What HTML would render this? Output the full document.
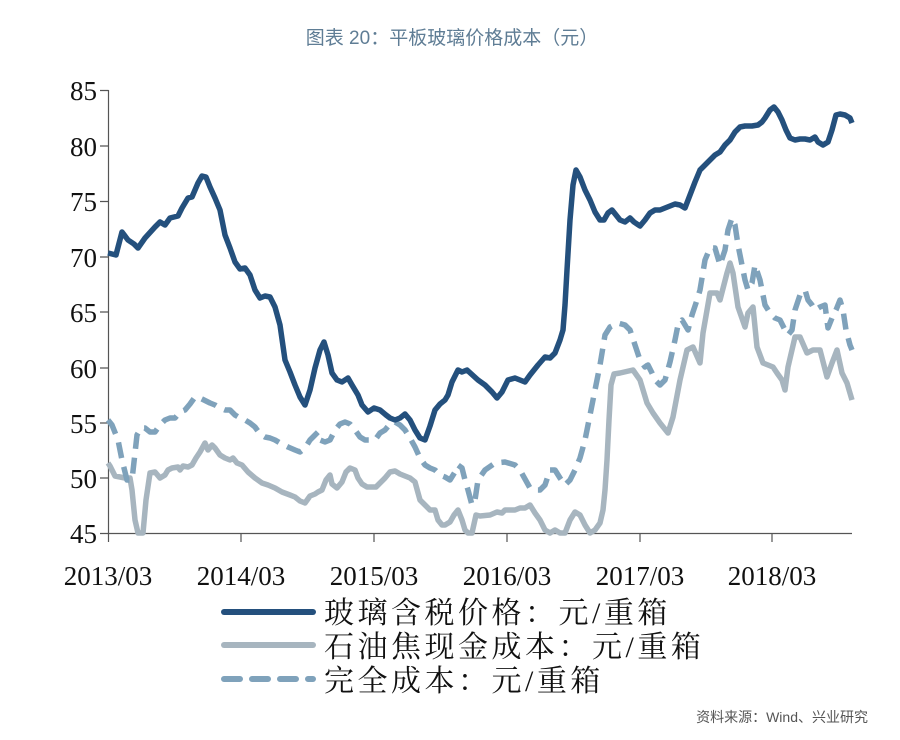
<!DOCTYPE html>
<html><head><meta charset="utf-8"><style>
body{margin:0;background:#fff;width:900px;height:740px;overflow:hidden}
svg{display:block}
</style></head><body>
<svg width="900" height="740" viewBox="0 0 900 740">
<text x="452" y="44" text-anchor="middle" font-family="Liberation Sans,Noto Sans CJK SC,sans-serif" font-size="19" fill="#5f7d95">图表 20：平板玻璃价格成本（元）</text>
<g font-family="Liberation Serif,Noto Serif CJK SC,serif" font-size="27" fill="#111" text-anchor="end">
<text x="97" y="100">85</text><text x="97" y="156">80</text><text x="97" y="211">75</text><text x="97" y="267">70</text><text x="97" y="322">65</text><text x="97" y="378">60</text><text x="97" y="433">55</text><text x="97" y="488">50</text><text x="97" y="543">45</text>
</g>
<g font-family="Liberation Serif,Noto Serif CJK SC,serif" font-size="27" fill="#111" text-anchor="middle">
<text x="108" y="585">2013/03</text><text x="241" y="585">2014/03</text><text x="374" y="585">2015/03</text><text x="507" y="585">2016/03</text><text x="640" y="585">2017/03</text><text x="772" y="585">2018/03</text>
</g>
<g stroke="#555" stroke-width="1.2" fill="none">
<path d="M108.5 90V533.5H852"/>
<path d="M100 90.5H108.5M100 146H108.5M100 201.5H108.5M100 257H108.5M100 312H108.5M100 368H108.5M100 423H108.5M100 478H108.5M100 533.5H108.5"/>
<path d="M108.5 533V542M241 533V542M374 533V542M507 533V542M640 533V542M772 533V542"/>
</g>
<g fill="none" stroke-linejoin="round" stroke-width="5.5">
<polyline stroke="#a7b5bf" points="108,463 110,466 115,476 125,478 130,478 132,490 135,520 138,533 143,533 146,500 150,473 155,472 160,478 165,475 168,470 172,468 178,467 180,470 183,466 188,467 192,465 196,458 200,452 205,443 208,450 212,445 215,448 220,455 225,458 230,460 233,458 237,463 242,465 248,472 255,478 262,483 268,485 275,488 282,492 290,495 295,497 300,501 305,503 310,496 315,494 318,492 322,490 326,480 330,475 332,484 337,488 342,482 346,472 350,468 355,470 358,478 362,484 367,487 372,487 376,487 380,483 385,478 390,472 395,471 400,474 405,476 410,478 415,482 420,500 425,505 430,510 435,510 438,520 442,525 445,525 450,522 454,515 458,510 462,520 465,530 468,533 472,533 476,515 480,516 490,515 497,512 502,513 505,510 515,510 520,508 525,508 530,505 535,513 540,520 545,530 550,533 555,530 560,533 565,533 570,520 575,512 580,515 585,525 590,533 595,530 600,523 603,510 605,490 607,460 609,420 611,385 614,374 620,373 633,370 640,380 647,403 653,413 660,423 668,433 673,417 680,380 687,350 693,347 700,363 703,333 710,293 717,293 720,300 727,273 730,263 733,273 738,307 745,327 748,313 753,307 757,347 763,363 773,367 777,373 782,380 785,390 788,367 795,337 800,337 807,353 813,350 820,350 827,377 832,363 837,350 842,373 847,383 852,400"/>
<polyline stroke="#7fa2bb" stroke-dasharray="16,9" points="108,420 112,425 118,440 122,460 127,480 132,480 137,435 141,428 145,428 150,432 155,432 160,425 165,420 170,418 175,418 180,412 185,410 190,404 195,397 200,398 204,400 210,403 215,405 220,408 225,410 230,410 235,415 240,418 245,420 250,423 255,427 260,434 265,437 270,438 275,440 280,443 288,447 295,450 300,452 305,448 310,440 315,435 318,432 320,440 325,442 330,440 335,430 340,424 345,422 350,424 355,430 360,437 365,440 370,440 375,440 380,433 385,430 390,424 395,422 400,425 405,430 410,438 415,447 420,458 425,465 430,468 435,470 440,475 445,477 450,480 455,472 458,465 462,468 465,480 468,490 472,505 475,500 478,480 485,470 495,463 505,462 515,465 520,470 530,488 535,490 540,490 545,485 550,470 555,470 560,478 565,485 570,480 575,470 580,458 585,440 590,415 595,390 600,365 605,335 610,327 618,323 625,325 630,330 635,345 640,360 645,367 648,365 652,373 655,380 660,385 665,380 670,362 675,340 678,325 682,320 688,330 692,315 697,300 700,290 705,260 710,248 715,248 720,265 725,250 728,230 732,218 735,225 738,245 742,265 745,280 748,290 752,283 755,265 760,280 765,305 770,313 775,318 780,320 785,330 788,335 792,330 795,310 800,295 805,290 808,300 812,305 815,310 820,307 825,305 828,328 832,318 836,310 840,300 843,310 846,330 850,345 852,350"/>
<polyline stroke="#24507d" points="108,253 116,255 122,232 128,240 134,244 138,248 145,238 155,227 160,222 165,225 170,218 178,216 182,208 188,198 192,197 198,183 202,176 206,177 210,187 215,198 220,210 225,235 230,248 235,262 240,269 245,268 250,275 255,290 260,298 265,296 270,297 275,307 280,325 285,360 290,372 295,385 300,397 305,405 310,390 315,368 320,350 324,342 328,355 332,373 337,380 342,382 348,378 352,385 358,395 362,405 368,412 374,408 380,410 386,415 390,418 395,420 400,418 405,414 410,420 415,430 420,438 425,440 430,426 435,410 440,404 445,400 448,395 452,382 458,370 462,372 467,370 478,380 485,385 492,392 497,398 502,392 508,380 515,378 520,380 525,382 530,375 538,365 545,357 550,358 555,353 560,340 563,330 565,305 567,270 570,220 573,185 576,170 580,177 585,190 590,200 595,212 600,220 604,220 608,213 612,210 616,215 620,220 625,222 630,218 634,222 640,226 645,220 650,213 655,210 660,210 665,208 670,206 675,204 680,205 685,208 690,195 695,182 700,170 705,165 710,160 715,155 720,152 725,145 730,140 735,132 740,127 745,126 752,126 758,125 762,122 765,118 770,110 774,107 778,112 782,120 786,130 790,138 795,140 800,139 805,139 810,140 815,137 818,142 823,145 828,142 832,130 836,115 840,114 845,115 850,118 852,123"/>
</g>
<g stroke-width="6" fill="none" stroke-linecap="round">
<line x1="224" y1="612" x2="313" y2="612" stroke="#24507d"/>
<line x1="224" y1="645" x2="313" y2="645" stroke="#a7b5bf"/>
<line x1="224" y1="679" x2="313" y2="679" stroke="#7fa2bb" stroke-dasharray="16,12"/>
</g>
<g font-family="Liberation Serif,Noto Serif CJK SC,serif" font-size="30" fill="#111" letter-spacing="3.5">
<text x="324" y="623">玻璃含税价格：元/重箱</text>
<text x="324" y="657">石油焦现金成本：元/重箱</text>
<text x="324" y="691">完全成本：元/重箱</text>
</g>
<text x="868" y="722" text-anchor="end" font-family="Liberation Sans,Noto Sans CJK SC,sans-serif" font-size="14" fill="#555">资料来源：Wind、兴业研究</text>
</svg>
</body></html>
